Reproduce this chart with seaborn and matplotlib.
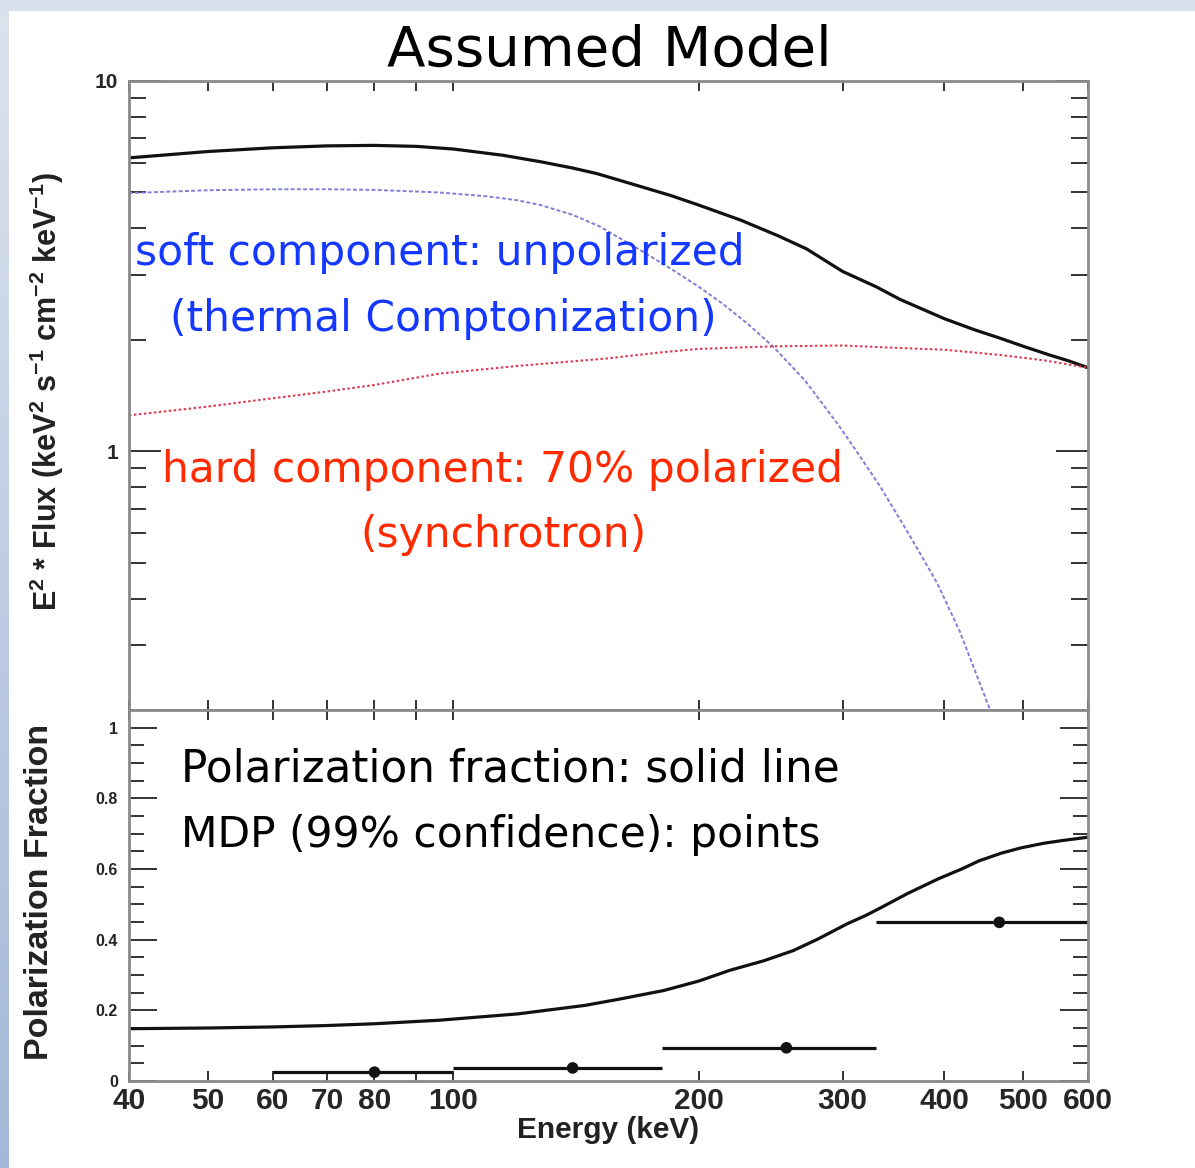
import numpy as np
import pandas as pd
import matplotlib
matplotlib.use("Agg")
import matplotlib.pyplot as plt
from matplotlib.patches import Rectangle
from matplotlib.ticker import FixedLocator, FixedFormatter, NullFormatter
import seaborn as sns

# ---- spectral model (E^2 * flux) ----
total_energy = [40, 45, 50, 60, 70, 80, 90, 100, 115, 128, 140, 150, 169, 185, 200, 225, 250,
                271, 300, 330, 353, 400, 435, 468, 500, 538, 570, 600]
total_flux = [6.2, 6.33, 6.45, 6.6, 6.68, 6.7, 6.66, 6.55, 6.3, 6.05, 5.82, 5.62, 5.2, 4.9,
              4.62, 4.21, 3.82, 3.52, 3.06, 2.78, 2.57, 2.28, 2.13, 2.02, 1.92, 1.82, 1.75, 1.68]

soft_energy = [40, 50, 60, 70, 80, 96, 110, 120, 128, 140, 151, 160, 170, 186, 200, 214, 230,
               247, 270, 298, 315, 334, 363, 392, 418, 452, 480]
soft_flux = [4.98, 5.07, 5.1, 5.1, 5.08, 5.0, 4.88, 4.76, 4.62, 4.35, 4.05, 3.76, 3.48, 3.08,
             2.78, 2.5, 2.2, 1.91, 1.55, 1.16, 0.97, 0.80, 0.59, 0.44, 0.325, 0.208, 0.15]

hard_energy = [40, 50, 60, 70, 80, 96, 120, 154, 180, 200, 247, 300, 353, 400, 468, 530, 600]
hard_flux = [1.25, 1.32, 1.39, 1.45, 1.51, 1.62, 1.7, 1.78, 1.85, 1.89, 1.92, 1.93, 1.9, 1.88,
             1.82, 1.76, 1.68]

# ---- polarization ----
pol_energy = [40, 50, 60, 70, 80, 96, 120, 145, 160, 181, 200, 218, 240, 261, 280, 304, 320,
              334, 360, 393, 420, 441, 470, 497, 530, 560, 600]
pol_fraction = [0.148, 0.15, 0.153, 0.157, 0.162, 0.172, 0.19, 0.214, 0.232, 0.256, 0.283,
                0.313, 0.34, 0.369, 0.402, 0.445, 0.468, 0.49, 0.53, 0.572, 0.6, 0.623, 0.645,
                0.66, 0.673, 0.681, 0.69]

mdp_center = [80, 140, 256, 467]
mdp_low = [60, 100, 180, 330]
mdp_high = [100, 180, 330, 600]
mdp_value = [0.025, 0.037, 0.094, 0.449]

x_tick_values = [40, 50, 60, 70, 80, 90, 100, 200, 300, 400, 500, 600]
x_tick_labels = ["40", "50", "60", "70", "80", "", "100", "200", "300", "400", "500", "600"]
flux_tick_values = [1, 10]
flux_tick_labels = ["1", "10"]
frac_tick_values = [0, 0.2, 0.4, 0.6, 0.8, 1.0]
frac_tick_labels = ["0", "0.2", "0.4", "0.6", "0.8", "1"]

sns.set_theme(style="white")
plt.rcParams["font.family"] = ["Liberation Sans", "DejaVu Sans"]
plt.rcParams["mathtext.fontset"] = "custom"
plt.rcParams["mathtext.rm"] = "Liberation Sans:bold"
plt.rcParams["mathtext.bf"] = "Liberation Sans:bold"
plt.rcParams["mathtext.it"] = "Liberation Sans:bold"

W, H = 1195, 1168
fig = plt.figure(figsize=(W / 100, H / 100), dpi=100, facecolor="white")


def fx(px):
    return px / W


def fy(py):
    return 1 - py / H


# slide background strips
strip = fig.add_axes([0, 0, fx(9), 1])
grad = np.linspace(0, 1, 256).reshape(-1, 1)
top_c = np.array([0.86, 0.89, 0.93])
bot_c = np.array([0.64, 0.72, 0.85])
img = top_c[None, None, :] * (1 - grad[:, :, None]) + bot_c[None, None, :] * grad[:, :, None]
strip.imshow(img, aspect="auto", extent=[0, 1, 0, 1])
strip.axis("off")
fig.patches.append(Rectangle((0, fy(11)), 1, 11 / H, transform=fig.transFigure,
                             facecolor="#d9e0ec", edgecolor="none", zorder=0))

left, right = 129, 1088
ax_top = fig.add_axes([fx(left), fy(710), fx(right - left), (710 - 81) / H])
ax_bot = fig.add_axes([fx(left), fy(1081), fx(right - left), (1081 - 710) / H])

spine_color = "#8a8a8a"
tick_color = "#333333"

for ax in (ax_top, ax_bot):
    ax.set_xscale("log")
    ax.set_xlim(40, 600)
    ax.set_facecolor("white")
    for s in ax.spines.values():
        s.set_color(spine_color)
        s.set_linewidth(2.0)
    ax.xaxis.set_major_locator(FixedLocator(x_tick_values))
    ax.xaxis.set_minor_locator(FixedLocator([100]))
    ax.xaxis.set_minor_formatter(NullFormatter())
    ax.tick_params(which="both", direction="in", top=True, right=True,
                   bottom=True, left=True, color=tick_color, width=1.4)
    ax.tick_params(axis="x", which="major", length=7.5)
    ax.tick_params(axis="x", which="minor", length=15)

# ---- upper panel: spectra ----
ax_top.set_yscale("log")
ax_top.set_ylim(0.2, 10)
sns.lineplot(x=total_energy, y=total_flux, ax=ax_top, color="#111111", lw=2.3)
sns.lineplot(x=soft_energy, y=soft_flux, ax=ax_top, color="#7f7fd6", lw=1.4,
             linestyle=(0, (2.0, 1.2)))
sns.lineplot(x=hard_energy, y=hard_flux, ax=ax_top, color="#dd3b52", lw=1.5,
             linestyle=(0, (1.2, 1.2)))
ax_top.yaxis.set_major_locator(FixedLocator(flux_tick_values))
ax_top.yaxis.set_major_formatter(FixedFormatter(flux_tick_labels))
ax_top.yaxis.set_minor_locator(FixedLocator([0.2, 0.3, 0.4, 0.5, 0.6, 0.7, 0.8, 0.9,
                                             2, 3, 4, 5, 6, 7, 8, 9]))
ax_top.yaxis.set_minor_formatter(NullFormatter())
ax_top.tick_params(axis="y", which="major", length=23, labelsize=15, pad=8)
ax_top.tick_params(axis="y", which="minor", length=12)
ax_top.tick_params(axis="x", labelbottom=False)
for lab in ax_top.get_yticklabels():
    lab.set_fontweight("bold")

# ---- lower panel: polarization ----
ax_bot.set_ylim(0, 1.05)
sns.lineplot(x=pol_energy, y=pol_fraction, ax=ax_bot, color="#111111", lw=2.3)
ax_bot.hlines(mdp_value, mdp_low, mdp_high, color="#111111", lw=2.3)
sns.scatterplot(x=mdp_center, y=mdp_value, ax=ax_bot, color="#111111", s=70,
                edgecolor="none", zorder=5)
ax_bot.yaxis.set_major_locator(FixedLocator(frac_tick_values))
ax_bot.yaxis.set_major_formatter(FixedFormatter(frac_tick_labels))
ax_bot.yaxis.set_minor_locator(FixedLocator(np.arange(0.05, 1.05, 0.05)))
ax_bot.yaxis.set_minor_formatter(NullFormatter())
ax_bot.tick_params(axis="y", which="major", length=20, labelsize=11.5, pad=8)
ax_bot.tick_params(axis="y", which="minor", length=11)
ax_bot.xaxis.set_major_formatter(FixedFormatter(x_tick_labels))
ax_bot.tick_params(axis="x", which="major", labelsize=21.5, pad=4)
for lab in ax_bot.get_yticklabels() + ax_bot.get_xticklabels():
    lab.set_fontweight("bold")

# ---- axis titles ----
fig.text(fx(608), fy(1130), "Energy (keV)", ha="center", va="center",
         fontsize=21.5, fontweight="bold", color="#222222")
fig.text(fx(40), fy(892), "Polarization Fraction", ha="center", va="center",
         rotation=90, fontsize=24.5, fontweight="bold", color="#222222")
fig.text(fx(47), fy(392),
         r"E$^{2}$ * Flux (keV$^{2}$ s$^{-1}$ cm$^{-2}$ keV$^{-1}$)",
         ha="center", va="center", rotation=90, fontsize=22, fontweight="bold",
         color="#222222")

# ---- annotations ----
note_font = ["DejaVu Sans"]
blue = "#1438ff"
red = "#ff2a00"
fig.text(fx(609), fy(66), "Assumed Model", ha="center", va="baseline",
         fontsize=40.5, family=note_font, color="black")
fig.text(fx(135), fy(265), "soft component: unpolarized", ha="left", va="baseline",
         fontsize=30.5, family=note_font, color=blue)
fig.text(fx(170), fy(331), "(thermal Comptonization)", ha="left", va="baseline",
         fontsize=30.5, family=note_font, color=blue)
fig.text(fx(162), fy(482), "hard component: 70% polarized", ha="left", va="baseline",
         fontsize=30.5, family=note_font, color=red)
fig.text(fx(360), fy(547), "(synchrotron)", ha="left", va="baseline",
         fontsize=30.5, family=note_font, color=red)
fig.text(fx(181), fy(782), "Polarization fraction: solid line", ha="left", va="baseline",
         fontsize=31.5, family=note_font, color="black")
fig.text(fx(181), fy(847), "MDP (99% confidence): points", ha="left", va="baseline",
         fontsize=30.5, family=note_font, color="black")

fig.savefig("out.png", dpi=100, facecolor="white")
